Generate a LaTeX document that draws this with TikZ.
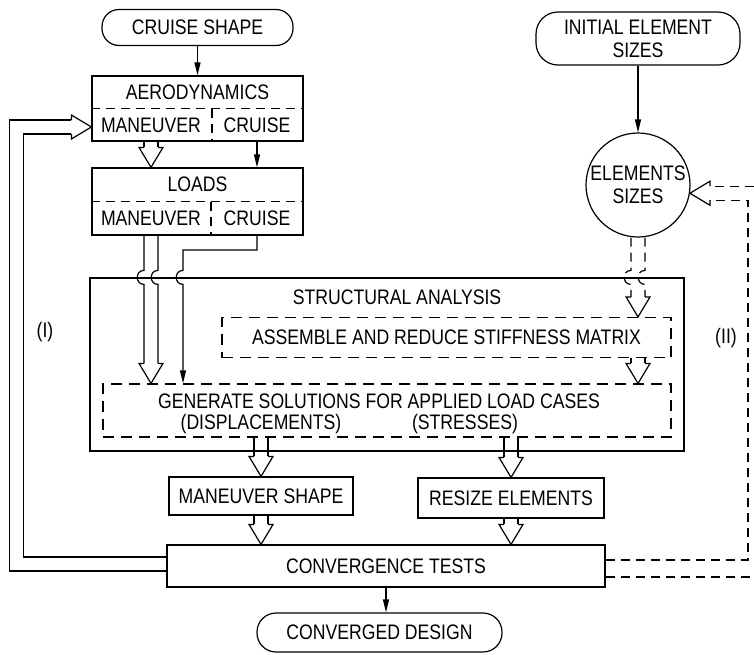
\documentclass[tikz,border=0pt]{standalone}
\usepackage{fontspec}
\setmainfont{Liberation Sans}[FakeStretch=0.84]
\usetikzlibrary{arrows.meta, calc}

\tikzset{
  box/.style={draw, line width=1.2pt, inner sep=0pt},
  dbox/.style={box, dash pattern=on 11pt off 7pt},
  pill/.style={box, rounded corners=17pt},
  lbl/.style={inner sep=0pt},
  conn/.style={line width=1.2pt},
  dconn/.style={conn, dash pattern=on 9pt off 6pt},
  arr/.style={conn, -{Triangle[length=13pt,width=6pt]}},
}

\newcommand{\openhead}[2][0]{%
  \draw[conn, shift={(#2)}, rotate=#1] (-7,-20) -- (-12,-20) -- (0,0) -- (12,-20) -- (7,-20);}
\newcommand{\hollow}[3][conn]{%
  \foreach \dx in {-7,7}{\draw[#1] ($(#2)+(\dx,0)$) -- ($(#3)+(\dx,-20)$);}
  \openhead{#3}}
\newcommand{\hollowhop}[4][conn]{%
  \foreach \dx in {-7,7}{%
    \draw[#1] ($(#2)+(\dx,0)$) -- ($(#2 |- #4)+(\dx,-7)$)
      .. controls +(-9,0) and +(-9,0) .. ($(#2 |- #4)+(\dx,7)$) -- ($(#3)+(\dx,-20)$);}
  \openhead{#3}}

\begin{document}
\begin{tikzpicture}[x=1pt, y=-1pt, font=\fontsize{21}{23}\selectfont]
  \useasboundingbox (0,0) rectangle (754,654);
  \clip (0,0) rectangle (754,654);

  \node[pill, minimum width=191, minimum height=36] (cruise) at (197.5,27.5) {CRUISE SHAPE};

  \node[box, minimum width=211, minimum height=65] (aero) at (197.5,108.5) {};
  \node[lbl] (aeroT) at (197.5,92) {AERODYNAMICS};
  \node[lbl] (aeroM) at (151,125) {MANEUVER};
  \node[lbl] (aeroC) at (257,125) {CRUISE};
  \draw[dconn] (aero.west) -- (aero.east);
  \draw[dconn] ($(aero.center)+(14.5,0)$) -- ($(aero.south)+(14.5,0)$);

  \node[box, minimum width=211, minimum height=67] (loads) at (197.5,201.5) {};
  \node[lbl] (loadsT) at (197.5,184) {LOADS};
  \node[lbl] (loadsM) at (151,218) {MANEUVER};
  \node[lbl] (loadsC) at (257,218) {CRUISE};
  \draw[dconn] (loads.west) -- (loads.east);
  \draw[dconn] ($(loads.center)+(13.5,0)$) -- ($(loads.south)+(13.5,0)$);

  \node[pill, minimum width=204, minimum height=53, rounded corners=22pt, align=center] (init) at (638,38.5) {INITIAL ELEMENT\\SIZES};
  \node[draw, circle, line width=1.2pt, minimum size=104, inner sep=0pt, align=center] (esize) at (638,185) {ELEMENTS\\SIZES};

  \node[box, minimum width=594, minimum height=173] (struct) at (387,364.5) {};
  \node[lbl] (structT) at (397,297) {STRUCTURAL ANALYSIS};
  \node[dbox, minimum width=449, minimum height=40] (asm) at (446.5,337.5) {ASSEMBLE AND REDUCE STIFFNESS MATRIX};
  \node[dbox, minimum width=568, minimum height=53] (gen) at (387,410.5) {};
  \node[lbl] (genT) at (379,401) {GENERATE SOLUTIONS FOR APPLIED LOAD CASES};
  \node[lbl] (genD) at (261,424) {(DISPLACEMENTS)};
  \node[lbl] (genS) at (465,424) {(STRESSES)};

  \node[box, minimum width=184, minimum height=38] (mshape) at (261,496) {MANEUVER SHAPE};
  \node[box, minimum width=186, minimum height=40] (resize) at (511,498) {RESIZE ELEMENTS};
  \node[box, minimum width=438, minimum height=42] (conv) at (386,566) {CONVERGENCE TESTS};
  \node[pill, minimum width=245, minimum height=39, rounded corners=19pt] (done) at (379.5,632.5) {CONVERGED DESIGN};

  \node[lbl] (loopI) at (45,332) {(I)};
  \node[lbl] (loopII) at (726,338) {(II)};

  \draw[arr] (cruise) -- (aero);
  \draw[arr] (init) -- (esize);
  \draw[arr] (conv.south) -- (conv.south |- done.north);
  \draw[arr] (aero.south -| aeroC) -- (loads.north -| aeroC);
  \hollow{aero.south -| aeroM}{loads.north -| aeroM}

  \coordinate (mOut) at (loads.south -| loadsM);
  \coordinate (mIn) at (gen.north -| loadsM);
  \hollowhop{mOut}{mIn}{struct.north}
  \coordinate (cOut) at (loads.south -| loadsC);
  \coordinate (cBend) at (183,250);
  \draw[arr] (cOut) |- (cBend) -- ($(cBend |- struct.north)+(0,-7)$)
    .. controls +(-9,0) and +(-9,0) .. ($(cBend |- struct.north)+(0,7)$) -- (cBend |- gen.north);

  \coordinate (eOut) at (esize.south);
  \coordinate (eIn) at (asm.north -| esize);
  \hollowhop[dconn]{eOut}{eIn}{struct.north}
  \hollow[dconn]{asm.south -| esize}{gen.north -| esize}

  \hollow{gen.south -| mshape}{mshape.north}
  \hollow{gen.south -| resize}{resize.north}
  \hollow{mshape.south}{conv.north -| mshape}
  \hollow{resize.south}{conv.north -| resize}

  \coordinate (fbTip) at ($(aero.west)+(0,18.5)$);
  \draw[conn] ($(conv.west)+(0,-9)$) -| ($(fbTip)+(-68,7)$) -- ($(fbTip)+(-20,7)$);
  \draw[conn] ($(conv.west)+(0,5)$) -| ($(fbTip)+(-82,-7)$) -- ($(fbTip)+(-20,-7)$);
  \openhead[90]{fbTip}

  \coordinate (fbTip2) at (esize.-9);
  \draw[dconn] ($(conv.east)+(0,-6)$) -| ($(fbTip2)+(58,7)$) -- ($(fbTip2)+(20,7)$);
  \draw[dconn] ($(conv.east)+(0,11)$) -| ($(fbTip2)+(72,-7)$) -- ($(fbTip2)+(20,-7)$);
  \openhead[-90]{fbTip2}
\end{tikzpicture}
\end{document}
